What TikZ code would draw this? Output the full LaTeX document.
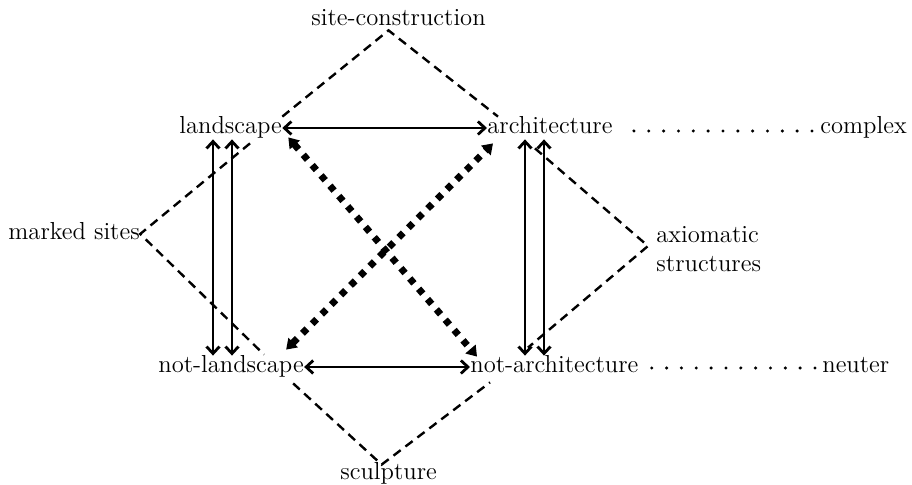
\documentclass[tikz,border=0pt]{standalone}
\usepackage{tikz}
\usetikzlibrary{arrows.meta, calc}

\begin{document}
\begin{tikzpicture}[
      x=0.5pt, y=-0.5pt,
      word/.style={inner sep=0pt, anchor=base west, font=\fontsize{12.3}{14.5}\selectfont},
      term/.style={word, text height=8.5pt, text depth=2.5pt},
      pair/.style={{Straight Barb[length=3.5pt,width=6.5pt]}-{Straight Barb[length=3.5pt,width=6.5pt]}, line width=1.4pt},
      field/.style={dash pattern=on 4.5pt off 3pt, line width=1.2pt},
      cross/.style={{Triangle[length=5pt,width=6.5pt]}-{Triangle[length=5pt,width=6.5pt]}, line width=3.4pt, dash pattern=on 3.2pt off 3.6pt}
    ]
      \useasboundingbox (0,0) rectangle (912,485);
      \node[term] (site) at (311,26) {site-construction};
      \node[term] (land) at (179,134) {landscape};
      \node[term] (arch) at (487,134) {architecture};
      \node[term] (cx) at (820,134) {complex};
      \node[term] (ms) at (8,240) {marked sites};
      \node[word, align=left] (ax) at (656,272) {axiomatic\\structures};
      \node[term] (nl) at (158,373) {not-landscape};
      \node[term] (na) at (470,373) {not-architecture};
      \node[term] (nt) at (822,373) {neuter};
      \node[term] (sculpt) at (340,480) {sculpture};
      \draw[field] (land.north east) -- ([shift={(-10,-1)}]site.south) -- ([shift={(11,0)}]arch.north west);
      \draw[field] ([shift={(71,4)}]land.south west) -- (ms.east) -- ([shift={(33,-1)}]nl.north);
      \draw[field] ([shift={(48,9)}]arch.south west) -- ([shift={(-8,-26)}]ax.base west) -- ([shift={(58,-8)}]na.north west);
      \draw[field] ([shift={(-11,5)}]nl.south east) -- ([shift={(-7,2)}]sculpt.north) -- ([shift={(20,4)}]na.south west);
      \draw[cross] ([shift={(6,-2)}]land.south east) -- ([shift={(7,1)}]na.north west);
      \draw[cross] ([shift={(-18,-6)}]nl.north east) -- ([shift={(6,4)}]arch.south west);
      \draw[pair] (land.east) -- (land.east -| arch.west);
      \draw[pair] (nl.east) -- (nl.east -| na.west);
      \foreach \dx in {55,74} {
        \draw[pair] ($(nl.north west)+(\dx,0)$) -- ($(nl.north west |- land.south)+(\dx,0)$);
        \draw[pair] ($(na.north west)+(\dx,0)$) -- ($(na.north west |- arch.south)+(\dx,0)$);
      }
      \foreach \k in {0,...,12}
        \fill ($([shift={(21,3)}]arch.east)!\k/12!([shift={(-8,3)}]cx.west)$) circle[radius=0.85pt];
      \foreach \k in {0,...,11}
        \fill ($([shift={(13,1)}]na.east)!\k/11!([shift={(-7,1)}]nt.west)$) circle[radius=0.85pt];
    \end{tikzpicture}
\end{document}
